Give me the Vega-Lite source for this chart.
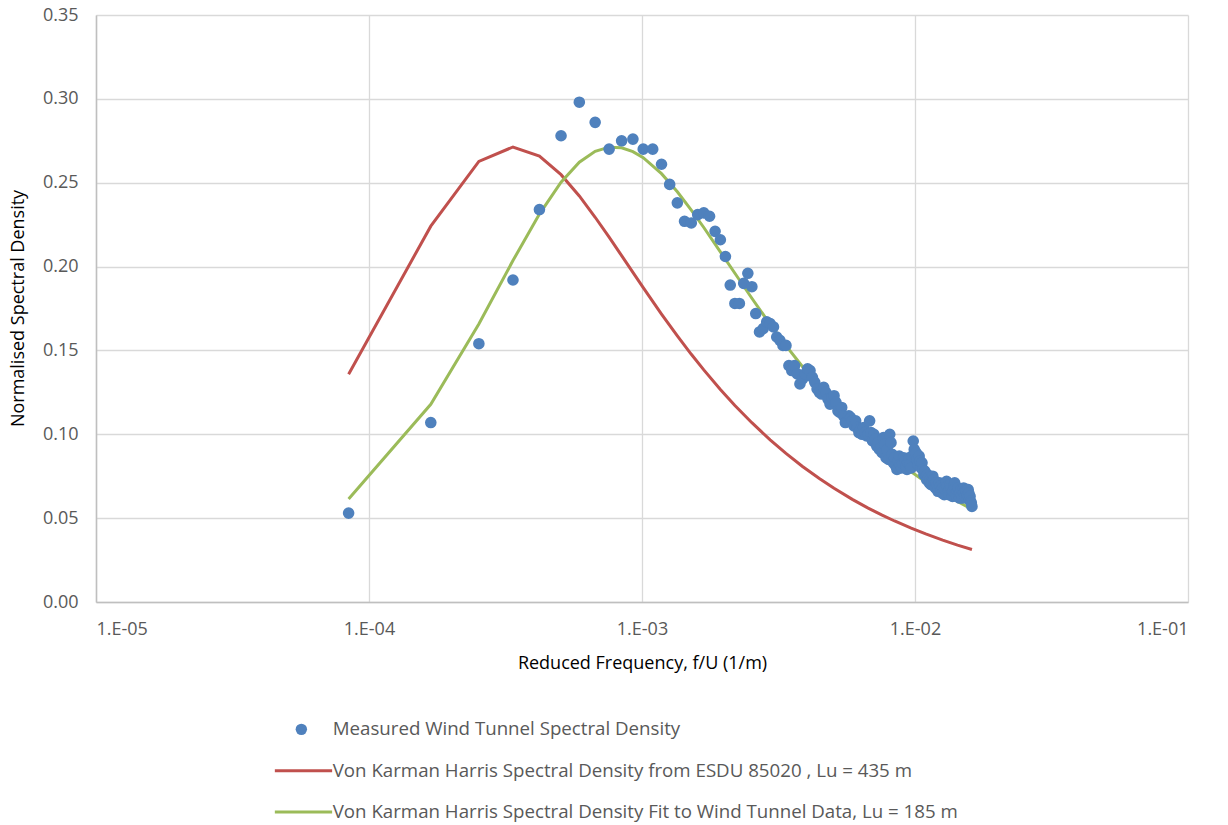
{
"$schema": "https://vega.github.io/schema/vega-lite/v6.json",
"width": 1092, "height": 587,
"autosize": {"type": "none"},
"padding": {"left": 96, "top": 15, "right": 40, "bottom": 223},
"background": "white",
"config": {
  "view": {"stroke": null},
  "font": "Open Sans",
  "axis": {"gridColor": "#d9d9d9", "gridWidth": 1.3, "domainColor": "#bfbfbf", "domainWidth": 1.5, "ticks": false, "labelColor": "#595959", "labelFontSize": 18, "titleColor": "#000000", "titleFontSize": 18, "titleFontWeight": "normal"},
  "legend": {"orient": "none", "legendX": 196, "legendY": 705, "direction": "vertical", "labelFontSize": 18.7, "labelColor": "#595959", "symbolSize": 130, "rowPadding": 21.3, "labelOffset": 22, "symbolStrokeWidth": 0, "labelLimit": 900}
},
"datasets": {
"measured": [
{"f":842e-7,"s":0.053,"series":"M"},{"f":1684e-7,"s":0.107,"series":"M"},{"f":2526e-7,"s":0.154,"series":"M"},{"f":3368e-7,"s":0.192,"series":"M"},{"f":4210e-7,"s":0.234,"series":"M"},{"f":5052e-7,"s":0.278,"series":"M"},{"f":5894e-7,"s":0.298,"series":"M"},{"f":6736e-7,"s":0.286,"series":"M"},{"f":7578e-7,"s":0.270,"series":"M"},{"f":8420e-7,"s":0.275,"series":"M"},
{"f":9262e-7,"s":0.276,"series":"M"},{"f":10104e-7,"s":0.270,"series":"M"},{"f":10946e-7,"s":0.270,"series":"M"},{"f":11788e-7,"s":0.261,"series":"M"},{"f":12630e-7,"s":0.249,"series":"M"},{"f":13472e-7,"s":0.238,"series":"M"},{"f":14314e-7,"s":0.227,"series":"M"},{"f":15156e-7,"s":0.226,"series":"M"},{"f":15998e-7,"s":0.231,"series":"M"},{"f":16840e-7,"s":0.232,"series":"M"},
{"f":17682e-7,"s":0.230,"series":"M"},{"f":18524e-7,"s":0.221,"series":"M"},{"f":19366e-7,"s":0.216,"series":"M"},{"f":20208e-7,"s":0.206,"series":"M"},{"f":21050e-7,"s":0.189,"series":"M"},{"f":21892e-7,"s":0.178,"series":"M"},{"f":22734e-7,"s":0.178,"series":"M"},{"f":23576e-7,"s":0.190,"series":"M"},{"f":24418e-7,"s":0.196,"series":"M"},{"f":25260e-7,"s":0.188,"series":"M"},
{"f":26102e-7,"s":0.172,"series":"M"},{"f":26944e-7,"s":0.161,"series":"M"},{"f":27786e-7,"s":0.163,"series":"M"},{"f":28628e-7,"s":0.167,"series":"M"},{"f":29470e-7,"s":0.166,"series":"M"},{"f":30312e-7,"s":0.164,"series":"M"},{"f":31154e-7,"s":0.158,"series":"M"},{"f":31996e-7,"s":0.156,"series":"M"},{"f":32838e-7,"s":0.153,"series":"M"},{"f":33680e-7,"s":0.153,"series":"M"},
{"f":34522e-7,"s":0.141,"series":"M"},{"f":35364e-7,"s":0.138,"series":"M"},{"f":36206e-7,"s":0.141,"series":"M"},{"f":37048e-7,"s":0.136,"series":"M"},{"f":37890e-7,"s":0.130,"series":"M"},{"f":38732e-7,"s":0.133,"series":"M"},{"f":39574e-7,"s":0.136,"series":"M"},{"f":40416e-7,"s":0.139,"series":"M"},{"f":41258e-7,"s":0.138,"series":"M"},{"f":42100e-7,"s":0.134,"series":"M"},
{"f":42942e-7,"s":0.131,"series":"M"},{"f":43784e-7,"s":0.127,"series":"M"},{"f":44626e-7,"s":0.125,"series":"M"},{"f":45468e-7,"s":0.124,"series":"M"},{"f":46310e-7,"s":0.128,"series":"M"},{"f":47152e-7,"s":0.125,"series":"M"},{"f":47994e-7,"s":0.121,"series":"M"},{"f":48836e-7,"s":0.118,"series":"M"},{"f":49678e-7,"s":0.122,"series":"M"},{"f":50520e-7,"s":0.123,"series":"M"},
{"f":51362e-7,"s":0.119,"series":"M"},{"f":52204e-7,"s":0.114,"series":"M"},{"f":53046e-7,"s":0.113,"series":"M"},{"f":53888e-7,"s":0.116,"series":"M"},{"f":54730e-7,"s":0.111,"series":"M"},{"f":55572e-7,"s":0.107,"series":"M"},{"f":56414e-7,"s":0.108,"series":"M"},{"f":57256e-7,"s":0.111,"series":"M"},{"f":58098e-7,"s":0.110,"series":"M"},{"f":58940e-7,"s":0.108,"series":"M"},
{"f":59782e-7,"s":0.105,"series":"M"},{"f":60624e-7,"s":0.108,"series":"M"},{"f":61466e-7,"s":0.104,"series":"M"},{"f":62308e-7,"s":0.101,"series":"M"},{"f":63150e-7,"s":0.103,"series":"M"},{"f":63992e-7,"s":0.100,"series":"M"},{"f":64834e-7,"s":0.104,"series":"M"},{"f":65676e-7,"s":0.101,"series":"M"},{"f":66518e-7,"s":0.099,"series":"M"},{"f":67360e-7,"s":0.100,"series":"M"},
{"f":68202e-7,"s":0.108,"series":"M"},{"f":69044e-7,"s":0.101,"series":"M"},{"f":69886e-7,"s":0.096,"series":"M"},{"f":70728e-7,"s":0.100,"series":"M"},{"f":71570e-7,"s":0.097,"series":"M"},{"f":72412e-7,"s":0.093,"series":"M"},{"f":73254e-7,"s":0.095,"series":"M"},{"f":74096e-7,"s":0.091,"series":"M"},{"f":74938e-7,"s":0.092,"series":"M"},{"f":75780e-7,"s":0.089,"series":"M"},
{"f":76622e-7,"s":0.098,"series":"M"},{"f":77464e-7,"s":0.094,"series":"M"},{"f":78306e-7,"s":0.086,"series":"M"},{"f":79148e-7,"s":0.091,"series":"M"},{"f":79990e-7,"s":0.085,"series":"M"},{"f":80832e-7,"s":0.100,"series":"M"},{"f":81674e-7,"s":0.095,"series":"M"},{"f":82516e-7,"s":0.088,"series":"M"},{"f":83358e-7,"s":0.083,"series":"M"},{"f":84200e-7,"s":0.086,"series":"M"},
{"f":85042e-7,"s":0.081,"series":"M"},{"f":85884e-7,"s":0.079,"series":"M"},{"f":86726e-7,"s":0.084,"series":"M"},{"f":87568e-7,"s":0.087,"series":"M"},{"f":88410e-7,"s":0.082,"series":"M"},{"f":89252e-7,"s":0.080,"series":"M"},{"f":90094e-7,"s":0.083,"series":"M"},{"f":90936e-7,"s":0.086,"series":"M"},{"f":91778e-7,"s":0.084,"series":"M"},{"f":92620e-7,"s":0.081,"series":"M"},
{"f":93462e-7,"s":0.079,"series":"M"},{"f":94304e-7,"s":0.083,"series":"M"},{"f":95146e-7,"s":0.086,"series":"M"},{"f":95988e-7,"s":0.082,"series":"M"},{"f":96830e-7,"s":0.080,"series":"M"},{"f":97672e-7,"s":0.087,"series":"M"},{"f":98514e-7,"s":0.096,"series":"M"},{"f":99356e-7,"s":0.091,"series":"M"},{"f":100198e-7,"s":0.088,"series":"M"},{"f":101040e-7,"s":0.089,"series":"M"},
{"f":101882e-7,"s":0.085,"series":"M"},{"f":102724e-7,"s":0.082,"series":"M"},{"f":103566e-7,"s":0.087,"series":"M"},{"f":104408e-7,"s":0.084,"series":"M"},{"f":105250e-7,"s":0.080,"series":"M"},{"f":106092e-7,"s":0.083,"series":"M"},{"f":106934e-7,"s":0.079,"series":"M"},{"f":107776e-7,"s":0.076,"series":"M"},{"f":108618e-7,"s":0.078,"series":"M"},{"f":109460e-7,"s":0.075,"series":"M"},
{"f":110302e-7,"s":0.073,"series":"M"},{"f":111144e-7,"s":0.076,"series":"M"},{"f":111986e-7,"s":0.074,"series":"M"},{"f":112828e-7,"s":0.071,"series":"M"},{"f":113670e-7,"s":0.073,"series":"M"},{"f":114512e-7,"s":0.070,"series":"M"},{"f":115354e-7,"s":0.072,"series":"M"},{"f":116196e-7,"s":0.075,"series":"M"},{"f":117038e-7,"s":0.073,"series":"M"},{"f":117880e-7,"s":0.070,"series":"M"},
{"f":118722e-7,"s":0.068,"series":"M"},{"f":119564e-7,"s":0.071,"series":"M"},{"f":120406e-7,"s":0.069,"series":"M"},{"f":121248e-7,"s":0.066,"series":"M"},{"f":122090e-7,"s":0.068,"series":"M"},{"f":122932e-7,"s":0.071,"series":"M"},{"f":123774e-7,"s":0.069,"series":"M"},{"f":124616e-7,"s":0.067,"series":"M"},{"f":125458e-7,"s":0.065,"series":"M"},{"f":126300e-7,"s":0.068,"series":"M"},
{"f":127142e-7,"s":0.066,"series":"M"},{"f":127984e-7,"s":0.064,"series":"M"},{"f":128826e-7,"s":0.067,"series":"M"},{"f":129668e-7,"s":0.070,"series":"M"},{"f":130510e-7,"s":0.072,"series":"M"},{"f":131352e-7,"s":0.069,"series":"M"},{"f":132194e-7,"s":0.066,"series":"M"},{"f":133036e-7,"s":0.064,"series":"M"},{"f":133878e-7,"s":0.067,"series":"M"},{"f":134720e-7,"s":0.070,"series":"M"},
{"f":135562e-7,"s":0.068,"series":"M"},{"f":136404e-7,"s":0.065,"series":"M"},{"f":137246e-7,"s":0.063,"series":"M"},{"f":138088e-7,"s":0.066,"series":"M"},{"f":138930e-7,"s":0.069,"series":"M"},{"f":139772e-7,"s":0.071,"series":"M"},{"f":140614e-7,"s":0.068,"series":"M"},{"f":141456e-7,"s":0.065,"series":"M"},{"f":142298e-7,"s":0.063,"series":"M"},{"f":143140e-7,"s":0.066,"series":"M"},
{"f":143982e-7,"s":0.068,"series":"M"},{"f":144824e-7,"s":0.064,"series":"M"},{"f":145666e-7,"s":0.062,"series":"M"},{"f":146508e-7,"s":0.065,"series":"M"},{"f":147350e-7,"s":0.067,"series":"M"},{"f":148192e-7,"s":0.064,"series":"M"},{"f":149034e-7,"s":0.062,"series":"M"},{"f":149876e-7,"s":0.066,"series":"M"},{"f":150718e-7,"s":0.068,"series":"M"},{"f":151560e-7,"s":0.065,"series":"M"},
{"f":152402e-7,"s":0.063,"series":"M"},{"f":153244e-7,"s":0.067,"series":"M"},{"f":154086e-7,"s":0.066,"series":"M"},{"f":154928e-7,"s":0.062,"series":"M"},{"f":155770e-7,"s":0.064,"series":"M"},{"f":156612e-7,"s":0.067,"series":"M"},{"f":157454e-7,"s":0.065,"series":"M"},{"f":158296e-7,"s":0.061,"series":"M"},{"f":159138e-7,"s":0.063,"series":"M"},{"f":159980e-7,"s":0.060,"series":"M"},
{"f":160822e-7,"s":0.059,"series":"M"},{"f":161664e-7,"s":0.057,"series":"M"}
],
"curves": [
{"f":842e-7,"s":0.1358,"series":"R"},{"f":1684e-7,"s":0.2241,"series":"R"},{"f":2526e-7,"s":0.2627,"series":"R"},{"f":3368e-7,"s":0.2713,"series":"R"},{"f":4210e-7,"s":0.2659,"series":"R"},{"f":5052e-7,"s":0.2548,"series":"R"},{"f":5894e-7,"s":0.2421,"series":"R"},{"f":6736e-7,"s":0.2294,"series":"R"},{"f":7578e-7,"s":0.2175,"series":"R"},{"f":8420e-7,"s":0.2065,"series":"R"},{"f":9262e-7,"s":0.1965,"series":"R"},{"f":10104e-7,"s":0.1874,"series":"R"},{"f":11788e-7,"s":0.1717,"series":"R"},{"f":13472e-7,"s":0.1587,"series":"R"},{"f":15156e-7,"s":0.1477,"series":"R"},{"f":16840e-7,"s":0.1384,"series":"R"},{"f":19366e-7,"s":0.1267,"series":"R"},{"f":21892e-7,"s":0.1172,"series":"R"},{"f":25260e-7,"s":0.1069,"series":"R"},{"f":29470e-7,"s":0.0967,"series":"R"},{"f":33680e-7,"s":0.0886,"series":"R"},{"f":38732e-7,"s":0.0808,"series":"R"},{"f":44626e-7,"s":0.0736,"series":"R"},{"f":50520e-7,"s":0.0678,"series":"R"},{"f":58940e-7,"s":0.0612,"series":"R"},{"f":67360e-7,"s":0.0560,"series":"R"},{"f":75780e-7,"s":0.0518,"series":"R"},{"f":84200e-7,"s":0.0483,"series":"R"},{"f":96830e-7,"s":0.0440,"series":"R"},{"f":109460e-7,"s":0.0406,"series":"R"},{"f":126300e-7,"s":0.0369,"series":"R"},{"f":143140e-7,"s":0.0339,"series":"R"},{"f":161664e-7,"s":0.0313,"series":"R"},
{"f":842e-7,"s":0.0614,"series":"G"},{"f":1684e-7,"s":0.1179,"series":"G"},{"f":2526e-7,"s":0.1658,"series":"G"},{"f":3368e-7,"s":0.2036,"series":"G"},{"f":4210e-7,"s":0.2313,"series":"G"},{"f":5052e-7,"s":0.2503,"series":"G"},{"f":5894e-7,"s":0.2622,"series":"G"},{"f":6736e-7,"s":0.2687,"series":"G"},{"f":7578e-7,"s":0.2712,"series":"G"},{"f":8420e-7,"s":0.2708,"series":"G"},{"f":9262e-7,"s":0.2685,"series":"G"},{"f":10104e-7,"s":0.2649,"series":"G"},{"f":11788e-7,"s":0.2554,"series":"G"},{"f":13472e-7,"s":0.2446,"series":"G"},{"f":15156e-7,"s":0.2337,"series":"G"},{"f":16840e-7,"s":0.2233,"series":"G"},{"f":19366e-7,"s":0.2088,"series":"G"},{"f":21892e-7,"s":0.1960,"series":"G"},{"f":25260e-7,"s":0.1811,"series":"G"},{"f":29470e-7,"s":0.1656,"series":"G"},{"f":33680e-7,"s":0.1529,"series":"G"},{"f":38732e-7,"s":0.1403,"series":"G"},{"f":44626e-7,"s":0.1284,"series":"G"},{"f":50520e-7,"s":0.1186,"series":"G"},{"f":58940e-7,"s":0.1074,"series":"G"},{"f":67360e-7,"s":0.0985,"series":"G"},{"f":75780e-7,"s":0.0912,"series":"G"},{"f":84200e-7,"s":0.0851,"series":"G"},{"f":96830e-7,"s":0.0776,"series":"G"},{"f":109460e-7,"s":0.0716,"series":"G"},{"f":126300e-7,"s":0.0651,"series":"G"},{"f":143140e-7,"s":0.0599,"series":"G"},{"f":161664e-7,"s":0.0553,"series":"G"}
]
},
"encoding": {
  "x": {"field": "f", "type": "quantitative", "scale": {"type": "log", "domain": [0.00001, 0.1], "nice": false},
        "axis": {"values": [0.00001, 0.0001, 0.001, 0.01, 0.1], "labelExpr": "'1.E-0' + round(-log(datum.value)/LN10)", "labelPadding": 18, "grid": true, "title": "Reduced Frequency, f/U (1/m)", "titleX": 546, "titleY": 61, "titleAlign": "center", "titleBaseline": "middle"}},
  "y": {"field": "s", "type": "quantitative", "scale": {"domain": [0, 0.35], "nice": false},
        "axis": {"values": [0, 0.05, 0.1, 0.15, 0.2, 0.25, 0.3, 0.35], "format": ".2f", "labelPadding": 18, "grid": true, "title": "Normalised Spectral Density", "titleX": -78, "titleY": 293, "titleAngle": 270, "titleAlign": "center", "titleBaseline": "middle"}}
},
"layer": [
  {"data": {"name": "curves"}, "mark": {"type": "line", "strokeWidth": 3},
   "encoding": {"color": {"field": "series", "type": "nominal", "scale": {"domain": ["M", "R", "G"], "range": ["#4F81BD", "#C0504D", "#9BBB59"]},
     "legend": {"title": null, "labelExpr": "datum.label == 'M' ? 'Measured Wind Tunnel Spectral Density' : datum.label == 'R' ? 'Von Karman Harris Spectral Density from ESDU 85020 , Lu = 435 m' : 'Von Karman Harris Spectral Density Fit to Wind Tunnel Data,  Lu = 185 m'"}}}},
  {"data": {"name": "measured"}, "mark": {"type": "point", "filled": true, "size": 135, "opacity": 1},
   "encoding": {
     "color": {"field": "series", "type": "nominal", "legend": {"title": null, "labelExpr": "datum.label == 'M' ? 'Measured Wind Tunnel Spectral Density' : datum.label == 'R' ? 'Von Karman Harris Spectral Density from ESDU 85020 , Lu = 435 m' : 'Von Karman Harris Spectral Density Fit to Wind Tunnel Data,  Lu = 185 m'"}},
     "shape": {"field": "series", "type": "nominal", "scale": {"domain": ["M", "R", "G"], "range": ["circle", "M-4.65,-0.26H5.4V0.26H-4.65Z", "M-4.65,-0.26H5.4V0.26H-4.65Z"]},
       "legend": {"title": null, "labelExpr": "datum.label == 'M' ? 'Measured Wind Tunnel Spectral Density' : datum.label == 'R' ? 'Von Karman Harris Spectral Density from ESDU 85020 , Lu = 435 m' : 'Von Karman Harris Spectral Density Fit to Wind Tunnel Data,  Lu = 185 m'"}}}}
]
}
